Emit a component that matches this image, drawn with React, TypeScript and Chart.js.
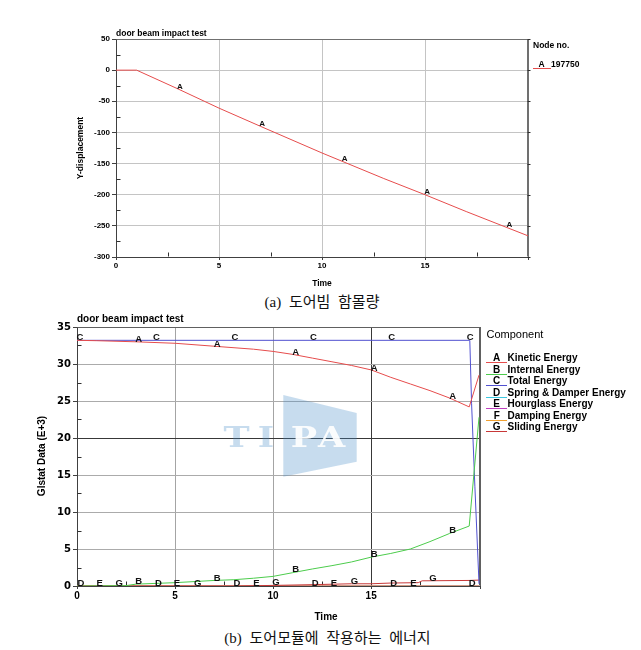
import React, { useEffect, useRef } from 'react';
import { Chart, registerables } from 'chart.js';
Chart.register(...registerables);

const SANS = '"Liberation Sans", Arial, sans-serif';
const VERD = '"DejaVu Sans", sans-serif';

// ---------- (a) door beam displacement ----------
const dispTitle = 'door beam impact test';
const dispTime = [0, 1, 3, 5, 7, 10, 13, 15, 17, 20];
const dispValue = [0, 0, -30, -61, -90, -133, -174, -200, -227, -266];
const dispMarkers = [3.05, 7.05, 11.05, 15.05, 19.05];
const dispXRange = [0, 20];
const dispYRange = [-300, 50];
const dispXStep = 5;
const dispYStep = 50;
const dispNode = '197750';

// ---------- (b) energy components ----------
const energyTitle = 'door beam impact test';
const energyLetters = ['A', 'B', 'C', 'D', 'E', 'F', 'G'];
const energyNames = [
  'Kinetic Energy',
  'Internal Energy',
  'Total Energy',
  'Spring & Damper Energy',
  'Hourglass Energy',
  'Damping Energy',
  'Sliding Energy',
];
const energyColors = ['#e64c4c', '#4ccc4c', '#5050d0', '#3cc8e0', '#c040c0', '#f0a030', '#c83838'];

const kineticTime = [0, 1, 3, 5, 7, 9, 10, 11, 12, 13, 14, 15, 16, 17, 18, 19, 20, 20.5];
const kineticValue = [33.2, 33.15, 33.0, 32.8, 32.4, 32.0, 31.7, 31.3, 30.8, 30.3, 29.8, 29.2, 28.2, 27.3, 26.4, 25.4, 24.2, 28.5];
const internalTime = [0, 2.5, 3, 5, 7, 8, 9, 10, 11, 12, 13, 14, 15, 16, 17, 18, 19, 20, 20.5];
const internalValue = [0, 0.05, 0.25, 0.45, 0.75, 0.85, 1.05, 1.3, 1.8, 2.3, 2.75, 3.25, 3.9, 4.4, 5.0, 6.0, 7.1, 8.1, 22.8];
const totalTime = [0, 20.03, 20.12, 20.29, 20.5];
const totalValue = [33.2, 33.2, 24.7, 13.4, 0.3];
const springTime = [0, 20.5];
const springValue = [0, 0];
const hourglassTime = [0, 20.5];
const hourglassValue = [0, 0];
const dampingTime = [0, 20.5];
const dampingValue = [0, 0];
const slidingTime = [0, 8, 10, 12, 14, 15, 16, 17.4, 17.6, 20, 20.5];
const slidingValue = [0, 0, 0.08, 0.18, 0.3, 0.3, 0.4, 0.45, 0.7, 0.75, 0.8];

const kineticMarkers = [3.1, 7.1, 11.1, 15.1, 19.1];
const internalMarkers = [3.1, 7.1, 11.1, 15.1, 19.1];
const totalMarkers = [0.1, 4, 8, 12, 16, 20];
const springMarkers = [0.15, 4.1, 8.1, 12.1, 16.1, 20.1];
const hourglassMarkers = [1.1, 5.05, 9.1, 13.05, 17.1];
const dampingMarkers: number[] = [];
const slidingMarkers = [2.1, 6.1, 10.1, 14.1, 18.1];

const energyXRange = [0, 20.55];
const energyYRange = [0, 35];
const energyXStep = 5;
const energyYStep = 5;

const captionA = '(a) 도어빔 함몰량';
const captionB = '(b) 도어모듈에 작용하는 에너지';

// ---------- helpers ----------
function pts(xs: number[], ys: number[]) {
  return xs.map((x, i) => ({ x, y: ys[i] }));
}
function interp(xs: number[], ys: number[], x: number) {
  if (x <= xs[0]) return ys[0];
  for (let i = 1; i < xs.length; i++) {
    if (x <= xs[i]) {
      const t = (x - xs[i - 1]) / (xs[i] - xs[i - 1]);
      return ys[i - 1] + t * (ys[i] - ys[i - 1]);
    }
  }
  return ys[ys.length - 1];
}

function markerPlugin(font: string, lift: number) {
  return {
    id: 'markers',
    afterDatasetsDraw(chart: any) {
      const ctx = chart.ctx;
      const xs = chart.scales.x;
      const ys = chart.scales.y;
      ctx.save();
      ctx.font = font;
      ctx.fillStyle = '#111';
      ctx.textAlign = 'center';
      ctx.textBaseline = 'middle';
      chart.data.datasets.forEach((ds: any) => {
        if (!ds.markers) return;
        const tx = ds.data.map((p: any) => p.x);
        const ty = ds.data.map((p: any) => p.y);
        ds.markers.forEach((m: number) => {
          const v = interp(tx, ty, m);
          ctx.fillText(ds.letter, xs.getPixelForValue(m) + 1, ys.getPixelForValue(v) - lift);
        });
      });
      ctx.restore();
    },
  };
}

function framePlugin(frameColor: string, xStep: number, yStep: number, rightTicks: boolean) {
  return {
    id: 'frame',
    beforeDatasetsDraw(chart: any) {
      const ctx = chart.ctx;
      const { left, right, top, bottom } = chart.chartArea;
      const L = Math.round(left) + 0.5;
      const R = Math.round(right) - 0.5;
      const T = Math.round(top) + 0.5;
      const B = Math.round(bottom) - 0.5;
      ctx.save();
      ctx.strokeStyle = frameColor;
      ctx.lineWidth = 1;
      ctx.beginPath();
      ctx.moveTo(L, T);
      ctx.lineTo(R, T);
      ctx.lineTo(R, B);
      ctx.stroke();
      // minor ticks inside
      ctx.strokeStyle = '#303030';
      ctx.beginPath();
      const xsc = chart.scales.x;
      const ysc = chart.scales.y;
      xsc.ticks.forEach((t: any) => {
        const v = t.value + xStep / 2;
        if (v < xsc.max) {
          const px = Math.round(xsc.getPixelForValue(v)) + 0.5;
          ctx.moveTo(px, B);
          ctx.lineTo(px, B - 4);
        }
      });
      ysc.ticks.forEach((t: any) => {
        const v = t.value + yStep / 2;
        if (v < ysc.max) {
          const py = Math.round(ysc.getPixelForValue(v)) + 0.5;
          ctx.moveTo(L, py);
          ctx.lineTo(L + 4, py);
        }
      });
      if (rightTicks) {
        ysc.ticks.forEach((t: any) => {
          const py = Math.round(ysc.getPixelForValue(t.value)) + 0.5;
          ctx.moveTo(R, py);
          ctx.lineTo(R + 3, py);
        });
      }
      ctx.stroke();
      ctx.restore();
    },
  };
}

const textAPlugin = {
  id: 'textA',
  afterDraw(chart: any) {
    const ctx = chart.ctx;
    ctx.save();
    ctx.fillStyle = '#000';
    ctx.textBaseline = 'middle';
    ctx.font = `bold 8.5px ${SANS}`;
    ctx.textAlign = 'left';
    ctx.fillText(dispTitle, 116, 33.5);
    ctx.fillText('Node no.', 533, 46);
    ctx.fillText(dispNode, 551, 65);
    ctx.textAlign = 'center';
    ctx.fillText('A', 541.5, 65);
    ctx.fillText('Time', 322, 284);
    ctx.strokeStyle = '#e64c4c';
    ctx.lineWidth = 1;
    ctx.beginPath();
    ctx.moveTo(533, 68.5);
    ctx.lineTo(551, 68.5);
    ctx.stroke();
    ctx.translate(80.5, 148);
    ctx.rotate(-Math.PI / 2);
    ctx.fillText('Y-displacement', 0, 0);
    ctx.restore();
  },
};

const textBPlugin = {
  id: 'textB',
  afterDraw(chart: any) {
    const ctx = chart.ctx;
    ctx.save();
    ctx.fillStyle = '#000';
    ctx.textBaseline = 'middle';
    ctx.textAlign = 'left';
    ctx.font = `bold 10px ${SANS}`;
    ctx.fillText(energyTitle, 77, 14.5);
    ctx.font = `11px ${SANS}`;
    ctx.fillText('Component', 486.5, 30);
    energyNames.forEach((name, i) => {
      const y = 53.3 + i * 11.5;
      ctx.strokeStyle = energyColors[i];
      ctx.lineWidth = 1;
      ctx.beginPath();
      ctx.moveTo(486, Math.round(y + 4) + 0.5);
      ctx.lineTo(507, Math.round(y + 4) + 0.5);
      ctx.stroke();
      ctx.font = `bold 10px ${SANS}`;
      ctx.textAlign = 'center';
      ctx.fillText(energyLetters[i], 496.7, y);
      ctx.textAlign = 'left';
      ctx.fillText(name, 507.5, y);
    });
    ctx.font = `bold 10px ${SANS}`;
    ctx.textAlign = 'center';
    ctx.fillText('Time', 326, 312.7);
    ctx.translate(42, 151);
    ctx.rotate(-Math.PI / 2);
    ctx.fillText('Glstat Data (E+3)', 0, 0);
    ctx.restore();
  },
};

const watermarkPlugin = {
  id: 'watermark',
  beforeDatasetsDraw(chart: any) {
    const ctx = chart.ctx;
    ctx.save();
    const blue = 'rgba(70,140,200,0.3)';
    ctx.fillStyle = blue;
    ctx.beginPath();
    ctx.moveTo(283.3, 90);
    ctx.lineTo(356.7, 108);
    ctx.lineTo(356.7, 156.7);
    ctx.lineTo(283.3, 171.7);
    ctx.closePath();
    ctx.fill();
    ctx.font = `bold 27px "DejaVu Serif", serif`;
    ctx.textAlign = 'center';
    ctx.textBaseline = 'alphabetic';
    const letters: [string, number, string][] = [
      ['T', 236.5, blue],
      ['I', 266, blue],
      ['P', 304, 'rgba(255,255,255,0.92)'],
      ['A', 331.5, 'rgba(255,255,255,0.92)'],
    ];
    letters.forEach(([ch, cx, col]) => {
      ctx.save();
      ctx.translate(cx, 141.7);
      ctx.scale(1.3, 1);
      ctx.fillStyle = col;
      ctx.fillText(ch, 0, 0);
      ctx.restore();
    });
    ctx.restore();
  },
};

export default function App() {
  const ref1 = useRef<HTMLCanvasElement>(null);
  const ref2 = useRef<HTMLCanvasElement>(null);

  useEffect(() => {
    const c1 = new Chart(ref1.current as HTMLCanvasElement, {
      type: 'line',
      data: {
        datasets: [
          {
            data: pts(dispTime, dispValue),
            borderColor: '#e64c4c',
            borderWidth: 1,
            pointRadius: 0,
            tension: 0,
            fill: false,
            // @ts-ignore
            markers: dispMarkers,
            letter: 'A',
          } as any,
        ],
      },
      options: {
        animation: false,
        responsive: false,
        events: [],
        layout: { padding: { left: 0, top: 39, right: 113, bottom: 10 } },
        plugins: { legend: { display: false }, tooltip: { enabled: false }, title: { display: false } },
        scales: {
          x: {
            type: 'linear',
            min: dispXRange[0],
            max: dispXRange[1],
            ticks: {
              stepSize: dispXStep,
              autoSkip: false,
              maxRotation: 0,
              padding: 1,
              color: '#000',
              font: { family: SANS, size: 8, weight: 'bold' },
              callback: (v: any) => (v === dispXRange[1] ? '' : String(v)),
            },
            grid: {
              color: (c: any) => (c.tick && c.tick.value === dispXRange[1] ? '#707070' : '#c4c4c4'),
              tickColor: '#404040',
              tickLength: 3,
            },
            border: { color: '#404040' },
            afterFit: (s: any) => {
              s.height = 25;
            },
          },
          y: {
            type: 'linear',
            min: dispYRange[0],
            max: dispYRange[1],
            ticks: {
              stepSize: dispYStep,
              autoSkip: false,
              padding: 2,
              color: '#000',
              font: { family: SANS, size: 8, weight: 'bold' },
            },
            grid: {
              color: (c: any) => (c.tick && c.tick.value === dispYRange[1] ? '#707070' : '#c4c4c4'),
              tickColor: '#404040',
              tickLength: 4,
            },
            border: { color: '#404040' },
            afterFit: (s: any) => {
              s.width = 116;
            },
          },
        },
      } as any,
      plugins: [framePlugin('#707070', dispXStep, dispYStep, true), markerPlugin(`bold 8px ${SANS}`, 3), textAPlugin],
    });

    const series = [
      [kineticTime, kineticValue, kineticMarkers, 1],
      [internalTime, internalValue, internalMarkers, 2],
      [totalTime, totalValue, totalMarkers, 3],
      [springTime, springValue, springMarkers, 7],
      [hourglassTime, hourglassValue, hourglassMarkers, 6],
      [dampingTime, dampingValue, dampingMarkers, 5],
      [slidingTime, slidingValue, slidingMarkers, 4],
    ] as [number[], number[], number[], number][];

    const c2 = new Chart(ref2.current as HTMLCanvasElement, {
      type: 'line',
      data: {
        datasets: series.map(([xs, ys, mk, ord], i) => ({
          data: pts(xs, ys),
          borderColor: energyColors[i],
          borderWidth: 1,
          pointRadius: 0,
          tension: 0,
          fill: false,
          order: ord,
          markers: mk,
          letter: energyLetters[i],
        })) as any,
      },
      options: {
        animation: false,
        responsive: false,
        events: [],
        layout: { padding: { left: 0, top: 22, right: 161, bottom: 16 } },
        plugins: { legend: { display: false }, tooltip: { enabled: false }, title: { display: false } },
        scales: {
          x: {
            type: 'linear',
            min: energyXRange[0],
            max: energyXRange[1],
            ticks: {
              stepSize: energyXStep,
              autoSkip: false,
              maxRotation: 0,
              padding: 1,
              color: '#000',
              font: { family: SANS, size: 10, weight: 'bold' },
              callback: (v: any) => (Number(v) % energyXStep === 0 ? String(v) : ''),
            },
            grid: {
              color: (c: any) => {
                const v = c.tick ? c.tick.value : 0;
                if (v === 15) return '#383838';
                if (v >= energyXRange[1]) return '#606060';
                return '#a4a4a4';
              },
              tickColor: '#404040',
              tickLength: 3,
            },
            border: { color: '#404040' },
            afterFit: (s: any) => {
              s.height = 25;
            },
          },
          y: {
            type: 'linear',
            min: energyYRange[0],
            max: energyYRange[1],
            ticks: {
              stepSize: energyYStep,
              autoSkip: false,
              padding: 2,
              color: '#000',
              font: { family: VERD, size: 10, weight: 'bold' },
            },
            grid: {
              color: (c: any) => {
                const v = c.tick ? c.tick.value : 0;
                if (v === 20) return '#383838';
                if (v === energyYRange[1]) return '#606060';
                return '#ababab';
              },
              tickColor: '#404040',
              tickLength: 4,
            },
            border: { color: '#404040' },
            afterFit: (s: any) => {
              s.width = 77;
            },
          },
        },
      } as any,
      plugins: [watermarkPlugin, framePlugin('#606060', energyXStep, energyYStep, false), markerPlugin(`bold 9.5px ${SANS}`, 2.5), textBPlugin],
    });

    return () => {
      c1.destroy();
      c2.destroy();
    };
  }, []);

  const capStyle: React.CSSProperties = {
    position: 'absolute',
    left: 0,
    textAlign: 'center',
    fontFamily: '"Liberation Serif", "Noto Sans CJK KR", serif',
    fontSize: 15,
    lineHeight: '18px',
    wordSpacing: 4,
    color: '#111',
    whiteSpace: 'nowrap',
  };

  return (
    <div style={{ position: 'absolute', left: 0, top: 0, width: 641, height: 650, background: '#fff', overflow: 'hidden' }}>
      <canvas ref={ref1} width={641} height={292} style={{ position: 'absolute', left: 0, top: 0, width: 641, height: 292 }} />
      <div style={{ ...capStyle, top: 292.5, width: 644 }}>{captionA}</div>
      <canvas ref={ref2} width={641} height={322} style={{ position: 'absolute', left: 0, top: 305, width: 641, height: 322 }} />
      <div style={{ ...capStyle, top: 629, width: 655 }}>{captionB}</div>
    </div>
  );
}
